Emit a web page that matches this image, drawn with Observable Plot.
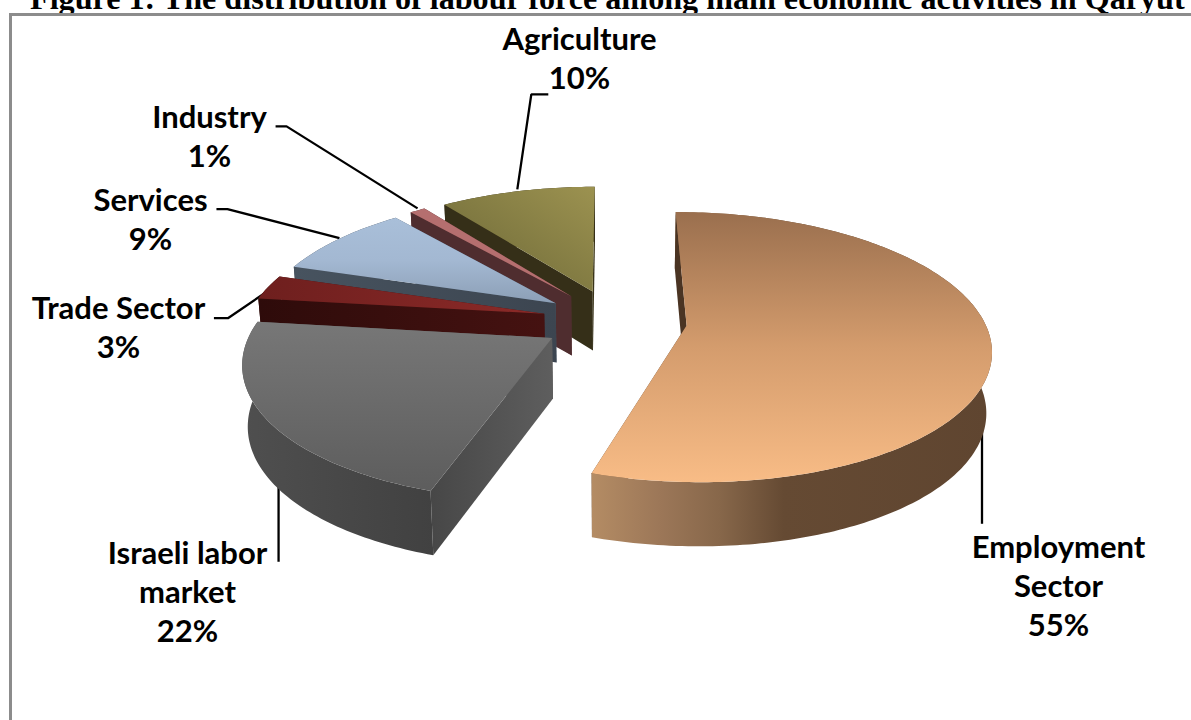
<!DOCTYPE html>
<html>
<head>
<meta charset="utf-8">
<script src="https://cdn.jsdelivr.net/npm/d3@7"></script>
<script src="https://cdn.jsdelivr.net/npm/@observablehq/plot@0.6"></script>
<style>
html,body{margin:0;padding:0;background:#fff;width:1191px;height:720px;overflow:hidden}
#title{position:absolute;left:30px;top:-12px;margin:0;font:bold 32.15px/20px "Liberation Serif",serif;white-space:nowrap;color:#000}
#frame{position:absolute;left:9px;top:13px;right:0;bottom:0;border-left:3px solid #8c8c8c;border-top:3px solid #8c8c8c}
#chart{position:absolute;left:0;top:0}
</style>
</head>
<body>
<h1 id="title">Figure 1: The distribution of labour force among main economic activities in Qaryut</h1>
<div id="frame"></div>
<div id="chart"></div>
<script>
// ---- data ----
const categories = ["Employment\nSector", "Israeli labor\nmarket", "Trade Sector", "Services", "Industry", "Agriculture"];
const shares = [55, 22, 3, 9, 1, 10];
// ---- styling per slice ----
const topFills = ["url(#empTop)", "url(#isrTop)", "url(#traTop)", "url(#serTop)", "#b56f6f", "url(#agrTop)"];
const startWallFills = ["#4a3423", "url(#isrStart)", "url(#traWall)", "url(#serWall)", "#4f2d2f", "#352f18"];
const arcWallFills = ["url(#empWall)", "url(#isrWall)", "#2e0c0b", "#3e4753", "#4f2d2f", "#352f18"];
const endWallFills = ["#5f4530", "#5c5c5c", "#431110", "#4a5a6b", "#5a3436", "#3a3419"];
const gradients = [
  ["empTop", 0, 0, 0, 1, [[0, "#9a6f4e"], [0.5, "#d49c6d"], [1, "#f8bc86"]]],
  ["empWall", 0, 0, 1, 0, [[0, "#b48c64"], [0.17, "#9c7758"], [0.32, "#87674a"], [0.48, "#654a33"], [1, "#5f4530"]]],
  ["isrTop", 0, 0, 0, 1, [[0, "#777777"], [1, "#5d5d5d"]]],
  ["isrWall", 0, 0, 1, 0, [[0, "#4f4f4f"], [1, "#414141"]]],
  ["isrStart", 0, 0, 1, 0, [[0, "#474747"], [1, "#5e5e5e"]]],
  ["traTop", 0, 0, 1, 0, [[0, "#6e1f1e"], [1, "#8c2a28"]]],
  ["traWall", 0, 0, 1, 0, [[0, "#2e0b0a"], [1, "#451211"]]],
  ["serTop", 0, 0, 0, 1, [[0, "#a9bfd9"], [0.5, "#a3b8d2"], [1, "#8c9fb6"]]],
  ["serWall", 0, 0, 1, 0, [[0, "#47535f"], [1, "#3c4550"]]],
  ["agrTop", 0, 1, 1, 0, [[0, "#6a6636"], [1, "#9c9250"]]]
];
// ---- label layout (pixels) ----
const labelCenters = [[1058, 584], [187, 590], [118, 326], [150, 218], [209, 135], [579, 57]];
const leaderOffsets = [ // from the slice's outer-edge anchor, in pixels
  [[-4, -3], [-4, 117]],
  [[8, 1], [8, 81]],
  [[4, 1], [-40, 31], [-54, 31]],
  [[1, -1], [-111, -30], [-122, -30]],
  [[0, -2], [-131, -84], [-142, -84]],
  [[0, -2], [14, -97], [31, -97]]
];
// ---- pie model ----
const cx = 614, cy = 320, rx = 297.5, ry = 130, persp = 0.16, explode = 0.2438, rotate = -0.2;
const shrink = 0.985;
const depthOf = (v) => (60 - 4 * v) / ry;
const rad = (d) => d * Math.PI / 180;
const projectTop = ([u, v]) => { const w = 1 + persp * v; return [u / w, v / w]; };
const projectBottom = (p) => { const [X, Y] = projectTop(p); return [X * shrink, Y - depthOf(p[1])]; };
const total = d3.sum(shares);
let acc = 0;
const slices = shares.map((s, i) => {
  const a0 = rotate + acc / total * 360; acc += s;
  const a1 = rotate + acc / total * 360;
  const mid = (a0 + a1) / 2;
  const apex = [explode * Math.sin(rad(mid)), explode * Math.cos(rad(mid))];
  const at = (a) => [apex[0] + Math.sin(rad(a)), apex[1] + Math.cos(rad(a))];
  const arc = d3.range(a0, a1, 1).concat([a1]).map(at);
  return {i, a0, a1, mid, apex, at, arc};
});
const polygons = [];
// painter's order: back slices first, the two big front slices last
for (const i of [5, 4, 3, 2, 0, 1]) {
  const s = slices[i];
  const first = s.arc[0], last = s.arc[s.arc.length - 1];
  const wall = (line) => [...line.map(projectTop), ...line.slice().reverse().map(projectBottom)];
  polygons.push({fill: endWallFills[i], pts: wall([s.apex, last])});
  polygons.push({fill: arcWallFills[i], pts: wall(s.arc)});
  polygons.push({fill: startWallFills[i], pts: wall([s.apex, first])});
  polygons.push({fill: topFills[i], pts: [s.apex, ...s.arc].map(projectTop)});
}
// ---- scales: projected pie units -> pixels ----
const width = 1191, height = 720;
const toX = (px) => (px - cx) / rx;
const toY = (py) => (cy - py) / ry;
const anchors = slices.map((s, i) => (i < 2 ? projectBottom : projectTop)(s.at(s.mid)));
const leaders = anchors.map(([X, Y], i) => leaderOffsets[i].map(([dx, dy]) => [X + dx / rx, Y - dy / ry]));
const labels = categories.map((c, i) => ({text: `${c}\n${shares[i]}%`, x: toX(labelCenters[i][0]), y: toY(labelCenters[i][1])}));

const defs = () => {
  const d = d3.create("svg:defs");
  for (const [id, x1, y1, x2, y2, stops] of gradients) {
    const g = d.append("linearGradient").attr("id", id).attr("x1", x1).attr("y1", y1).attr("x2", x2).attr("y2", y2);
    for (const [o, c] of stops) g.append("stop").attr("offset", o).attr("stop-color", c);
  }
  return d.node();
};

const plot = Plot.plot({
  width, height, margin: 0,
  style: {background: "transparent", overflow: "visible"},
  x: {domain: [toX(0), toX(width)], range: [0, width], axis: null},
  y: {domain: [toY(0), toY(height)], range: [0, height], axis: null},
  marks: [
    defs,
    ...leaders.map((pts) => Plot.line(pts, {x: (d) => d[0], y: (d) => d[1], stroke: "#000", strokeWidth: 2.3, strokeLinejoin: "miter", strokeLinecap: "butt"})),
    ...polygons.map((p) => Plot.line(p.pts, {x: (d) => d[0], y: (d) => d[1], fill: p.fill, stroke: "none"})),
    Plot.text(labels, {x: "x", y: "y", text: "text", fontFamily: "Lato", fontWeight: 700, fontSize: 31, lineHeight: 39 / 31, textAnchor: "middle", lineAnchor: "middle", fill: "#000"})
  ]
});
document.getElementById("chart").append(plot);
</script>
</body>
</html>
